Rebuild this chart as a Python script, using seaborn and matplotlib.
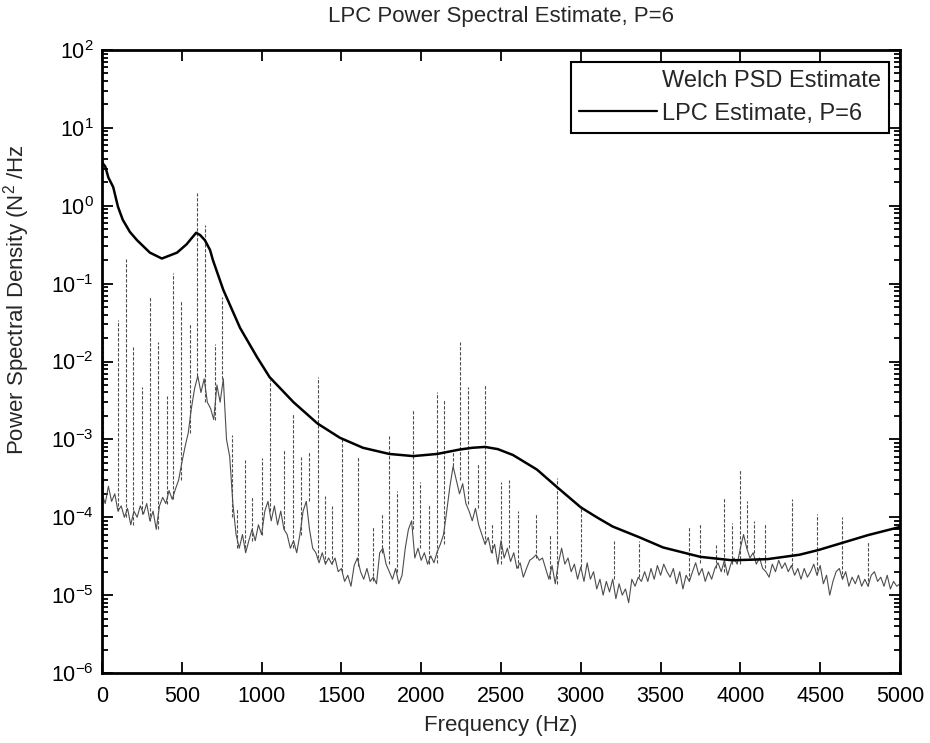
import numpy as np
import pandas as pd
import matplotlib
matplotlib.use('Agg')
import matplotlib.pyplot as plt
from matplotlib.lines import Line2D
from matplotlib.ticker import LogLocator, NullFormatter
import seaborn as sns

sns.set_style('ticks')
plt.rcParams['font.family'] = ['Liberation Sans', 'DejaVu Sans']
plt.rcParams['mathtext.fontset'] = 'custom'
plt.rcParams['mathtext.rm'] = 'Liberation Sans'
plt.rcParams['axes.unicode_minus'] = False

# Welch PSD floor, every 20 Hz from 0 to 5000
welch_freq = [
    0, 20, 40, 60, 80, 100, 120, 140, 160, 180,
    200, 220, 240, 260, 280, 300, 320, 340, 360, 380,
    400, 420, 440, 460, 480, 500, 520, 540, 560, 580,
    600, 620, 640, 660, 680, 700, 720, 740, 760, 780,
    800, 820, 840, 860, 880, 900, 920, 940, 960, 980,
    1000, 1020, 1040, 1060, 1080, 1100, 1120, 1140, 1160, 1180,
    1200, 1220, 1240, 1260, 1280, 1300, 1320, 1340, 1360, 1380,
    1400, 1420, 1440, 1460, 1480, 1500, 1520, 1540, 1560, 1580,
    1600, 1620, 1640, 1660, 1680, 1700, 1720, 1740, 1760, 1780,
    1800, 1820, 1840, 1860, 1880, 1900, 1920, 1940, 1960, 1980,
    2000, 2020, 2040, 2060, 2080, 2100, 2120, 2140, 2160, 2180,
    2200, 2220, 2240, 2260, 2280, 2300, 2320, 2340, 2360, 2380,
    2400, 2420, 2440, 2460, 2480, 2500, 2520, 2540, 2560, 2580,
    2600, 2620, 2640, 2660, 2680, 2700, 2720, 2740, 2760, 2780,
    2800, 2820, 2840, 2860, 2880, 2900, 2920, 2940, 2960, 2980,
    3000, 3020, 3040, 3060, 3080, 3100, 3120, 3140, 3160, 3180,
    3200, 3220, 3240, 3260, 3280, 3300, 3320, 3340, 3360, 3380,
    3400, 3420, 3440, 3460, 3480, 3500, 3520, 3540, 3560, 3580,
    3600, 3620, 3640, 3660, 3680, 3700, 3720, 3740, 3760, 3780,
    3800, 3820, 3840, 3860, 3880, 3900, 3920, 3940, 3960, 3980,
    4000, 4020, 4040, 4060, 4080, 4100, 4120, 4140, 4160, 4180,
    4200, 4220, 4240, 4260, 4280, 4300, 4320, 4340, 4360, 4380,
    4400, 4420, 4440, 4460, 4480, 4500, 4520, 4540, 4560, 4580,
    4600, 4620, 4640, 4660, 4680, 4700, 4720, 4740, 4760, 4780,
    4800, 4820, 4840, 4860, 4880, 4900, 4920, 4940, 4960, 4980,
    5000,
]
welch_psd = [
    2e-4, 1.5e-4, 2.5e-4, 1.6e-4, 2e-4, 1.2e-4, 1.4e-4, 1e-4, 1.3e-4, 8e-5,
    1.2e-4, 1e-4, 1.4e-4, 1.1e-4, 1.5e-4, 9e-5, 1.2e-4, 7e-5, 1.4e-4, 1.8e-4,
    1.5e-4, 2.2e-4, 1.7e-4, 2.3e-4, 3e-4, 5e-4, 8e-4, 1.2e-3, 2.5e-3, 4.5e-3,
    6.5e-3, 4e-3, 6e-3, 3e-3, 2.5e-3, 1.8e-3, 5e-3, 3e-3, 6e-3, 1e-3,
    6e-4, 1.5e-4, 6e-5, 4e-5, 6e-5, 3.5e-5, 5e-5, 7e-5, 5e-5, 8e-5,
    6e-5, 1.2e-4, 1.6e-4, 9e-5, 1.4e-4, 8e-5, 1.2e-4, 7e-5, 6e-5, 4e-5,
    5e-5, 3.5e-5, 6e-5, 1.2e-4, 1.6e-4, 7e-5, 4e-5, 3.5e-5, 2.6e-5, 3.5e-5,
    2.5e-5, 3e-5, 2.5e-5, 3e-5, 2e-5, 2.2e-5, 1.5e-5, 1.8e-5, 1.3e-5, 2.4e-5,
    3e-5, 2e-5, 1.6e-5, 2.2e-5, 1.5e-5, 1.7e-5, 1.4e-5, 3.5e-5, 4e-5, 2.5e-5,
    2e-5, 1.6e-5, 2.2e-5, 1.4e-5, 1.8e-5, 4e-5, 7e-5, 9e-5, 3e-5, 4e-5,
    2.8e-5, 3.5e-5, 2.5e-5, 3.2e-5, 2.6e-5, 3.6e-5, 4.5e-5, 6e-5, 1.2e-4, 2.5e-4,
    4.5e-4, 3e-4, 2e-4, 2.7e-4, 1.5e-4, 1.2e-4, 9e-5, 1.3e-4, 8e-5, 6e-5,
    4.5e-5, 5.5e-5, 3.5e-5, 4.5e-5, 2.5e-5, 5e-5, 3e-5, 4e-5, 2.7e-5, 3.5e-5,
    2.2e-5, 2.6e-5, 1.7e-5, 2.2e-5, 2.8e-5, 3e-5, 3.3e-5, 2.8e-5, 3e-5, 2.2e-5,
    1.6e-5, 2.4e-5, 1.4e-5, 2.6e-5, 4e-5, 2.5e-5, 3e-5, 2e-5, 2.5e-5, 1.6e-5,
    2.3e-5, 1.5e-5, 2.6e-5, 1.6e-5, 2e-5, 1.2e-5, 1.6e-5, 1e-5, 1.5e-5, 1.1e-5,
    1.6e-5, 9e-6, 1.4e-5, 1e-5, 1.2e-5, 8e-6, 1.6e-5, 1.3e-5, 1.7e-5, 1.5e-5,
    2e-5, 1.5e-5, 2.2e-5, 1.6e-5, 2.4e-5, 1.8e-5, 2.5e-5, 2e-5, 1.7e-5, 2.2e-5,
    1.4e-5, 2e-5, 1.2e-5, 1.8e-5, 1.5e-5, 2e-5, 2.6e-5, 1.8e-5, 2.2e-5, 1.5e-5,
    2e-5, 1.6e-5, 2.2e-5, 2.6e-5, 2e-5, 2.8e-5, 1.8e-5, 2.5e-5, 3e-5, 2.5e-5,
    4e-5, 6e-5, 4e-5, 3e-5, 3.5e-5, 2.5e-5, 3e-5, 2.2e-5, 2e-5, 1.7e-5,
    2.5e-5, 2e-5, 2.8e-5, 2.2e-5, 2.6e-5, 2e-5, 2.4e-5, 1.8e-5, 2.2e-5, 1.6e-5,
    2.2e-5, 1.7e-5, 2e-5, 2.5e-5, 1.8e-5, 2.4e-5, 1.4e-5, 1.8e-5, 1e-5, 1.5e-5,
    2e-5, 2.2e-5, 1.6e-5, 2e-5, 1.3e-5, 1.7e-5, 1.4e-5, 1.8e-5, 1.3e-5, 1.6e-5,
    1.3e-5, 1.8e-5, 2e-5, 1.5e-5, 1.7e-5, 1.3e-5, 1.8e-5, 1.2e-5, 1.5e-5, 1.3e-5,
    1.4e-5,
]

# narrow spikes of the Welch estimate: frequency, foot, tip
spike_freq = [5, 102, 150, 192, 250, 301, 351, 407, 445, 495,
              551, 595, 645, 708, 752, 813, 845, 896, 940, 1002,
              1053, 1141, 1197, 1247, 1297, 1353, 1397, 1441, 1504, 1604,
              1698, 1754, 1798, 1848, 1949, 1993, 2049, 2099, 2143, 2200,
              2243, 2293, 2356, 2400, 2444, 2500, 2550, 2606, 2719, 2807,
              2851, 3001, 3208, 3365, 3678, 3747, 3847, 3898, 3947, 3998,
              4041, 4085, 4154, 4323, 4480, 4637, 4800]
spike_low = [2e-4, 1.2e-4, 1e-4, 8e-5, 1.1e-4, 9e-5, 7e-5, 1.5e-4, 1.7e-4, 3e-4,
             1.2e-3, 6.5e-3, 3e-3, 1.8e-3, 6e-3, 1e-4, 4e-5, 4e-5, 5e-5, 6e-5,
             1.2e-4, 7e-5, 4e-5, 6e-5, 1.6e-4, 3e-5, 2.5e-5, 2.5e-5, 2e-5, 2.4e-5,
             1.5e-5, 3.5e-5, 2.5e-5, 2e-5, 7e-5, 4e-5, 2.5e-5, 2.6e-5, 4.5e-5, 4.5e-4,
             3e-4, 1.5e-4, 1.3e-4, 4.5e-5, 3.5e-5, 2.5e-5, 4e-5, 2.2e-5, 3e-5, 1.6e-5,
             1.4e-5, 2.3e-5, 1.6e-5, 1.7e-5, 1.5e-5, 2.6e-5, 2.2e-5, 2e-5, 2.5e-5, 2.5e-5,
             4e-5, 3.5e-5, 2.2e-5, 2.4e-5, 1.8e-5, 1.6e-5, 1.3e-5]
spike_top = [0.1, 0.034, 0.21, 0.0155, 0.0047, 0.07, 0.018, 0.0036, 0.135, 0.062,
             0.03, 1.45, 0.56, 0.017, 0.068, 1.15e-3, 1.3e-4, 5.5e-4, 1.9e-4, 5.8e-4,
             5.8e-3, 7.4e-4, 2.2e-3, 6e-4, 6.9e-4, 6.3e-3, 1.9e-4, 1.4e-4, 1e-3, 6e-4,
             7.6e-5, 1.1e-4, 1.1e-3, 2.2e-4, 2.4e-3, 2.8e-4, 1.5e-4, 4e-3, 3.3e-3, 7e-4,
             0.018, 4.7e-3, 5e-4, 5e-3, 8.5e-5, 2.8e-4, 3e-4, 1.2e-4, 1.1e-4, 6e-5,
             3.2e-4, 1.4e-4, 5e-5, 5e-5, 7.5e-5, 8.5e-5, 4.4e-5, 1.8e-4, 8.5e-5, 4e-4,
             1.6e-4, 9e-5, 8.5e-5, 1.7e-4, 1.1e-4, 1e-4, 5e-5]

# LPC estimate, P=6
lpc_freq = [0, 20, 40, 70, 100, 130, 175, 220, 300, 375,
            470, 530, 560, 590, 615, 645, 677, 695, 760, 865,
            970, 1050, 1200, 1350, 1490, 1635, 1800, 1950, 2100, 2240,
            2320, 2400, 2480, 2575, 2725, 2850, 3000, 3100, 3200, 3370,
            3515, 3750, 3950, 4170, 4370, 4490, 4640, 4800, 5000]
lpc_psd = [3.6, 3.2, 2.3, 1.74, 0.97, 0.66, 0.46, 0.36, 0.25, 0.21,
           0.25, 0.32, 0.38, 0.45, 0.42, 0.36, 0.27, 0.2, 0.083, 0.027,
           0.0115, 0.0063, 0.003, 0.0016, 0.00105, 0.00078, 0.00065, 0.00061, 0.00065, 0.00074,
           0.00078, 0.0008, 0.00075, 0.00063, 0.00041, 0.000245, 0.000134, 0.0001, 7.6e-5, 5.5e-5,
           4.1e-5, 3.1e-5, 2.8e-5, 2.9e-5, 3.3e-5, 3.8e-5, 4.7e-5, 5.9e-5, 7.5e-5]

y_ticks = [1e-6, 1e-5, 1e-4, 1e-3, 1e-2, 1e-1, 1e0, 1e1, 1e2]

welch = pd.DataFrame({'freq': welch_freq, 'psd': welch_psd})
lpc = pd.DataFrame({'freq': lpc_freq, 'psd': lpc_psd})

fig = plt.figure(figsize=(9.3, 7.43), dpi=100)
ax = fig.add_axes([0.1097, 0.0942, 0.858, 0.8385])

welch_color = '0.3'
sns.lineplot(data=welch, x='freq', y='psd', ax=ax, color=welch_color,
             linewidth=0.8, sort=False, estimator=None)
ax.vlines(spike_freq, spike_low, spike_top, color=welch_color, linewidth=0.8,
          linestyles=(0, (3, 1.5)))
sns.lineplot(data=lpc, x='freq', y='psd', ax=ax, color='black',
             linewidth=1.8, sort=False, estimator=None)

ax.set_yscale('log')
ax.set_xlim(0, 5000)
ax.set_ylim(1e-6, 1e2)
ax.set_xticks(range(0, 5001, 500))
ax.set_yticks(y_ticks)
ax.yaxis.set_minor_locator(LogLocator(base=10, subs=np.arange(2, 10), numticks=100))
ax.yaxis.set_minor_formatter(NullFormatter())

ax.tick_params(axis='both', which='both', direction='in', top=True, right=True,
               labelsize=15.5, width=1.3, colors='black')
ax.tick_params(axis='x', which='major', pad=9)
ax.tick_params(axis='y', which='major', pad=6)
ax.tick_params(axis='both', which='major', length=8)
ax.tick_params(axis='y', which='minor', length=4)
for s in ax.spines.values():
    s.set_linewidth(2)
    s.set_color('black')

ax.set_title('LPC Power Spectral Estimate, P=6', fontsize=16, pad=20)
ax.set_xlabel('Frequency (Hz)', fontsize=16, labelpad=6)
ax.set_ylabel('Power Spectral Density (N$^2$ /Hz', fontsize=16)
ax.yaxis.set_label_coords(-0.088, 0.6)

handles = [Line2D([], [], color='white', linewidth=1),
           Line2D([], [], color='black', linewidth=1.6)]
leg = ax.legend(handles, ['Welch PSD Estimate', 'LPC Estimate, P=6'],
                loc='upper right', bbox_to_anchor=(0.986, 0.981),
                fontsize=17, frameon=True, fancybox=False, framealpha=1,
                handlelength=3.3, handletextpad=0.2, borderpad=0.35,
                labelspacing=0.45, borderaxespad=0)
leg.get_frame().set_edgecolor('black')
leg.get_frame().set_linewidth(1.5)

fig.savefig('out.png', dpi=100)
